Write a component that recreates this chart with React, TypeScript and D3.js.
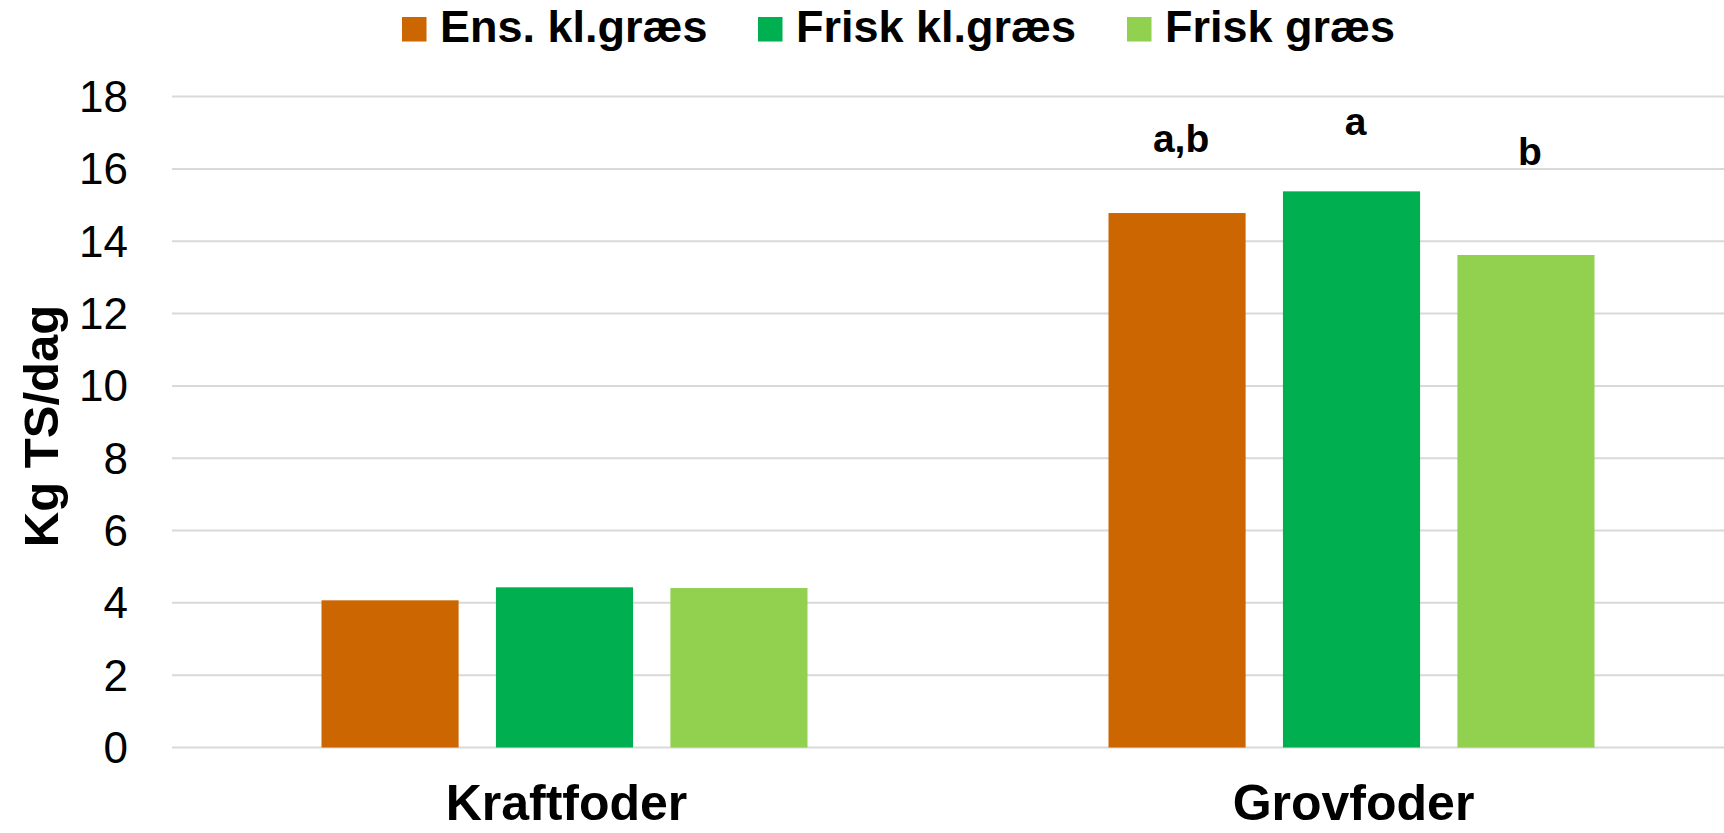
import React from "react";
import * as d3 from "d3";

const categories = ["Kraftfoder", "Grovfoder"];
const seriesNames = ["Ens. kl.græs", "Frisk kl.græs", "Frisk græs"];
const seriesColors = ["#CC6600", "#00B050", "#92D050"];
const kraftfoderValues = [4.07, 4.43, 4.41];
const grovfoderValues = [14.78, 15.38, 13.62];
const yTicks = [0, 2, 4, 6, 8, 10, 12, 14, 16, 18];
const sigLetters = ["a,b", "a", "b"];
const sigLetterY = [16.48, 16.94, 16.11];
const yTitle = "Kg TS/dag";

const W = 1724;
const H = 833;
const FONT = "'Liberation Sans', Arial, sans-serif";

export default function App() {
  const values = [kraftfoderValues, grovfoderValues];
  const y = d3.scaleLinear().domain([0, 18]).range([747.5, 96.6]);
  const x0 = d3.scaleBand<string>().domain(categories).range([171, 1745]).padding(0);
  const groupW = 486;
  const x1 = d3
    .scaleBand<string>()
    .domain(seriesNames)
    .range([0, groupW])
    .paddingInner(0.214)
    .paddingOuter(0);
  const groupOffset = (x0.bandwidth() - groupW) / 2;
  const legendX = [402, 758, 1127];

  return (
    <svg
      width={W}
      height={H}
      style={{ position: "absolute", left: 0, top: 0, background: "#fff" }}
    >
      <rect x={0} y={0} width={W} height={H} fill="#fff" />
      {yTicks.map((t) => (
        <line
          key={t}
          x1={172}
          x2={W}
          y1={y(t)}
          y2={y(t)}
          stroke="#D9D9D9"
          strokeWidth={2}
        />
      ))}
      {yTicks.map((t) => (
        <text
          key={"l" + t}
          x={128}
          y={y(t)}
          textAnchor="end"
          dominantBaseline="central"
          fontFamily={FONT}
          fontSize={44}
          fill="#000"
        >
          {t}
        </text>
      ))}
      <text
        transform={`translate(58,426) rotate(-90)`}
        textAnchor="middle"
        fontFamily={FONT}
        fontSize={49}
        fontWeight="bold"
        fill="#000"
      >
        {yTitle}
      </text>
      {categories.map((c, ci) => (
        <g key={c} transform={`translate(${(x0(c) ?? 0) + groupOffset},0)`}>
          {seriesNames.map((s, si) => (
            <rect
              key={s}
              x={x1(s)}
              y={y(values[ci][si])}
              width={x1.bandwidth()}
              height={y(0) - y(values[ci][si])}
              fill={seriesColors[si]}
            />
          ))}
          {ci === 1 &&
            seriesNames.map((s, si) => (
              <text
                key={"sig" + s}
                x={(x1(s) ?? 0) + x1.bandwidth() / 2 + 4}
                y={y(sigLetterY[si])}
                textAnchor="middle"
                fontFamily={FONT}
                fontSize={39}
                fontWeight="bold"
                fill="#000"
              >
                {sigLetters[si]}
              </text>
            ))}
        </g>
      ))}
      {categories.map((c) => (
        <text
          key={"c" + c}
          x={(x0(c) ?? 0) + x0.bandwidth() / 2 + 2}
          y={820}
          textAnchor="middle"
          fontFamily={FONT}
          fontSize={50}
          fontWeight="bold"
          fill="#000"
        >
          {c}
        </text>
      ))}
      {seriesNames.map((s, i) => (
        <g key={"lg" + s} transform={`translate(${legendX[i]},0)`}>
          <rect x={0} y={17} width={24.5} height={24.5} fill={seriesColors[i]} />
          <text
            x={38}
            y={42}
            fontFamily={FONT}
            fontSize={45}
            fontWeight="bold"
            fill="#000"
          >
            {s}
          </text>
        </g>
      ))}
    </svg>
  );
}
